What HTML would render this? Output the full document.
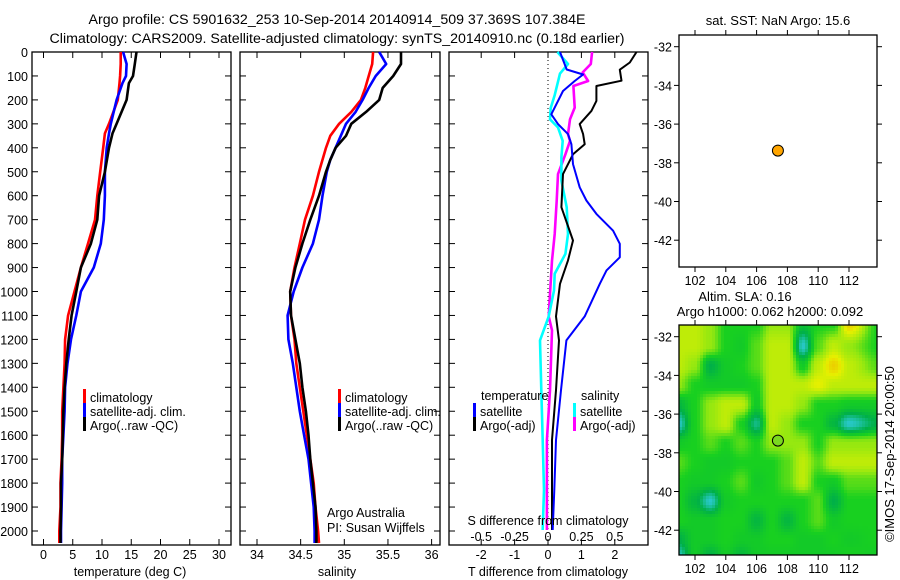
<!DOCTYPE html>
<html><head><meta charset="utf-8"><style>
body{margin:0;background:#fff}
svg{display:block;font-family:"Liberation Sans",sans-serif;font-size:12.5px}
</style></head><body>
<svg id="fig" width="900" height="580" viewBox="0 0 900 580">
<text x="337" y="24" text-anchor="middle" style="font-size:14.2px">Argo profile: CS 5901632_253 10-Sep-2014 20140914_509 37.369S 107.384E</text>
<text x="337" y="43" text-anchor="middle" style="font-size:14.2px">Climatology: CARS2009. Satellite-adjusted climatology: synTS_20140910.nc (0.18d earlier)</text>
<g id="m2"></g>
<g id="p1"></g>
<g id="p2"></g>
<g id="p3"></g>
<g id="m1"></g>
<text x="778" y="25" text-anchor="middle" style="font-size:13px">sat. SST: NaN Argo: 15.6</text>
<text x="745" y="301" text-anchor="middle" style="font-size:13px">Altim. SLA: 0.16</text>
<text x="770" y="316" text-anchor="middle" style="font-size:13px">Argo h1000: 0.062 h2000: 0.092</text>
<text transform="translate(894,454) rotate(-90)" text-anchor="middle" style="font-size:13px">©IMOS 17-Sep-2014 20:00:50</text>
<text x="130" y="576" text-anchor="middle">temperature (deg C)</text>
<text x="337" y="576" text-anchor="middle">salinity</text>
<text x="548" y="576" text-anchor="middle">T difference from climatology</text>
<text x="548" y="525" text-anchor="middle">S difference from climatology</text>
<text x="327" y="517">Argo Australia</text>
<text x="327" y="532">PI: Susan Wijffels</text>
</svg>
<script>
const NS="http://www.w3.org/2000/svg";
// ---- data ----
const tDepth=[0,50,100,130,200,300,340,400,500,600,700,800,900,1000,1100,1200,1300,1400,1500,1600,1700,1800,1900,2000,2050];
const tClim=[13.2,13.2,13.1,13.0,12.7,11.2,10.5,10.2,9.7,9.2,8.8,7.6,6.4,5.3,4.2,3.7,3.6,3.4,3.2,3.2,3.1,2.9,2.9,2.7,2.7];
const tSat=[13.6,14.2,14.1,13.5,12.5,11.5,11.2,10.8,10.5,10.5,10.3,9.8,8.6,6.4,5.6,4.7,4.1,3.7,3.6,3.4,3.2,3.2,3.1,3.0,3.0];
const tArgo=[15.9,15.6,15.3,14.6,14.2,12.5,11.8,11.2,10.5,9.5,9.2,8.1,6.4,5.6,4.8,4.3,3.9,3.6,3.4,3.3,3.2,3.0,3.0,2.9,2.9];
const sDepth=[0,50,100,150,200,250,300,350,400,450,500,600,700,800,900,1000,1100,1200,1300,1400,1500,1600,1700,1800,1900,2000,2050];
const sClim=[35.33,35.32,35.28,35.24,35.19,35.08,34.94,34.84,34.79,34.75,34.71,34.64,34.55,34.49,34.43,34.38,34.39,34.43,34.45,34.49,34.53,34.57,34.61,34.65,34.67,34.70,34.71];
const sSat=[35.40,35.48,35.36,35.28,35.21,35.13,35.02,34.96,34.90,34.84,34.80,34.75,34.71,34.64,34.52,34.42,34.35,34.36,34.41,34.45,34.49,34.54,34.59,34.62,34.65,34.66,34.66];
const sArgo=[35.65,35.65,35.56,35.44,35.40,35.25,35.08,35.02,34.90,34.84,34.79,34.71,34.61,34.52,34.44,34.38,34.39,34.44,34.49,34.52,34.56,34.59,34.61,34.64,34.67,34.68,34.68];
const dtArgoDepth=[0,44,74,120,142,204,246,301,343,385,427,510,648,787,870,968,1104,1204,1412,1620,1829,1996];
const dtArgo=[2.65,2.45,2.15,2.2,1.45,1.45,1.3,0.95,1.05,1.1,0.75,0.45,0.4,0.75,0.6,0.36,0.24,0.33,0.24,0.12,0.12,0.12];
const dtSatDepth=[0,73,94,121,163,260,301,343,385,468,565,620,676,746,801,857,912,968,1104,1204,1412,1620,1829,1996];
const dtSat=[0.36,0.56,1.05,0.8,0.45,0.1,0.3,0.6,0.7,0.75,0.95,1.15,1.45,1.95,2.15,2.15,1.75,1.55,1.1,0.55,0.39,0.24,0.19,0.14];
const dsSatDepth=[0,50,90,180,234,281,315,371,440,537,648,760,843,926,996,1104,1204,1412,1620,1829,1996];
const dsSat=[0.07,0.15,0.09,0.05,0.02,0.015,0.075,0.11,0.10,0.10,0.14,0.15,0.13,0.05,0.045,0.005,-0.06,-0.05,-0.04,-0.03,-0.04];
const dsArgoDepth=[0,50,85,121,142,232,281,343,371,427,510,621,760,871,1010,1104,1162,1412,1620,1829,1996];
const dsArgo=[0.33,0.32,0.26,0.30,0.19,0.2,0.165,0.15,0.165,0.13,0.075,0.065,0.05,0.03,0.015,0.005,0.03,0.015,-0.008,-0.008,-0.008];
const depthTicks=[0,100,200,300,400,500,600,700,800,900,1000,1100,1200,1300,1400,1500,1600,1700,1800,1900,2000];
const tTicks=[0,5,10,15,20,25,30];
const sTicks=[34,34.5,35,35.5,36];
const sTickLabels=["34","34.5","35","35.5","36"];
const dtTicks=[-2,-1,0,1,2];
const dsTicks=[-0.5,-0.25,0,0.25,0.5];
const dsTickLabels=["-0.5","-0.25","0","0.25","0.5"];
const lonTicks=[102,104,106,108,110,112];
const latTicks=[-32,-34,-36,-38,-40,-42];
const argoLon=107.384, argoLat=-37.369;
// SLA grid: rows lat, cols lon
const slaLats=[-31.3,-32.5,-33.5,-34.5,-35.5,-36.5,-37.5,-38.5,-39.5,-40.5,-41.5,-42.5,-43.4];
const slaLons=[100.9,102,103,104,105,106,107,108,109,110,111,112,113.9];
const slaGrid=[
[3.5,3.5,3,2,2,2,3,3,1.5,2,2,4.5,2],
[3.5,3.5,3,2,1.8,2.5,3.5,3.5,0,2.5,3.5,3,2],
[3.5,3,1,1.8,2,2.5,3.5,3.5,1.8,3.5,4.5,3.5,2.5],
[3,2,1.8,1.8,1.8,2,3.5,3.5,3.5,4,3.5,3.5,3.5],
[1.2,2,3,3.5,3.5,1.8,3.5,3.5,3,2,2,1.8,1.8],
[0,2,3,3.5,2,0.5,3.5,3,2,2,1.2,0,1],
[1.8,2,2.5,2,2.5,2,3,3,3,2,3,3,3],
[2.5,2,1.8,1.8,2,2,2,2.5,3.5,2.5,3.5,3.5,3.5],
[2,1.8,1.8,2,2.5,1.8,2,2.5,3.5,2,1.8,2.5,2.5],
[2,1.2,0,1.8,2,2,2,2,2,2.5,1,2,2],
[2,1.8,1.8,2,2,1.2,2,1.2,2,2.5,1.8,2,2],
[1,1.8,1.8,2,1.8,1.8,2,2,1.8,1.8,2,1.8,2],
[0,1.8,1,1.8,1.2,1.8,1.8,1.8,1.8,1.8,1.8,2,1.8]];
const slaColors=[[40,200,200],[0,176,72],[24,208,32],[150,232,16],[230,240,0],[240,176,0]];

function mk(tag,attrs,parent){const e=document.createElementNS(NS,tag);for(const k in attrs)e.setAttribute(k,attrs[k]);parent.appendChild(e);return e;}
const PT=52,PB=545;
const yD=d=>52+d*0.2395;

function panel(g,x0,x1,xs,ticks,labels,name){
  mk("rect",{x:x0,y:PT,width:x1-x0,height:PB-PT,fill:"none",stroke:"#000","stroke-width":1.3},g);
  ticks.forEach((t,i)=>{const x=xs(t);
    mk("line",{x1:x,x2:x,y1:PB,y2:PB-6,stroke:"#000"},g);
    mk("line",{x1:x,x2:x,y1:PT,y2:PT+6,stroke:"#000"},g);
    const tx=mk("text",{x:x,y:559,"text-anchor":"middle"},g);tx.textContent=labels?labels[i]:t;
    
    
  });
  depthTicks.forEach(d=>{const y=yD(d);
    mk("line",{x1:x0,x2:x0+6,y1:y,y2:y,stroke:"#000"},g);
    mk("line",{x1:x1,x2:x1-6,y1:y,y2:y,stroke:"#000"},g);});
}
function line(g,xs,xv,dv,col,name,w){
  let p="";for(let i=0;i<xv.length;i++)p+=(i?"L":"M")+xs(xv[i]).toFixed(1)+" "+yD(dv[i]).toFixed(1);
  const e=mk("path",{d:p,fill:"none",stroke:col,"stroke-width":w||2.6,"stroke-linejoin":"round"},g);
  
  
}
function legend(g,x,y,col,label,name){
  mk("rect",{x:x-1,y:y-11,width:3,height:14,fill:col},g);
  const t=mk("text",{x:x+6,y:y+2},g);t.textContent=label;
  
  
}
// panel 1
const p1=document.getElementById("p1");
const xT=t=>43.5+t*5.85;
panel(p1,32,231,xT,tTicks,null,"temperature");
depthTicks.forEach(d=>{const t=mk("text",{x:28,y:yD(d)+5,"text-anchor":"end"},p1);t.textContent=d;
  
  });
line(p1,xT,tClim,tDepth,"#f00","temperature-climatology-line");
line(p1,xT,tSat,tDepth,"#00f","temperature-satellite-line");
line(p1,xT,tArgo,tDepth,"#000","temperature-argo-line");
legend(p1,84,400,"#f00","climatology","legend-climatology");
legend(p1,84,414,"#00f","satellite-adj. clim.","legend-satellite");
legend(p1,84,428,"#000","Argo(..raw -QC)","legend-argo");
// panel 2
const p2=document.getElementById("p2");
const xS=s=>257+(s-34)*87.3;
panel(p2,240,440,xS,sTicks,sTickLabels,"salinity");
line(p2,xS,sClim,sDepth,"#f00","salinity-climatology-line");
line(p2,xS,sSat,sDepth,"#00f","salinity-satellite-line");
line(p2,xS,sArgo,sDepth,"#000","salinity-argo-line");
legend(p2,339,400,"#f00","climatology","legend-climatology-2");
legend(p2,339,414,"#00f","satellite-adj. clim.","legend-satellite-2");
legend(p2,339,428,"#000","Argo(..raw -QC)","legend-argo-2");
// panel 3
const p3=document.getElementById("p3");
const xDT=t=>548+t*33.4;
const xDS=s=>548+s*133.6;
panel(p3,449,648,xDT,dtTicks,null,"t-difference");
mk("line",{x1:548,x2:548,y1:PT,y2:PB,stroke:"#000","stroke-dasharray":"1 3"},p3);
dsTicks.forEach((s,i)=>{const t=mk("text",{x:xDS(s),y:541,"text-anchor":"middle"},p3);t.textContent=dsTickLabels[i];
  
  });
line(p3,xDS,dsArgo,dsArgoDepth,"#f0f","s-diff-argo-line");
line(p3,xDS,dsSat,dsSatDepth,"#0ff","s-diff-satellite-line");
line(p3,xDT,dtArgo,dtArgoDepth,"#000","t-diff-argo-line",2);
line(p3,xDT,dtSat,dtSatDepth,"#00f","t-diff-satellite-line",2);
[["temperature",481,400],["salinity",581,400]].forEach(a=>{const t=mk("text",{x:a[1],y:a[2]},p3);t.textContent=a[0];
  
  });
legend(p3,474,414,"#00f","satellite","legend-t-satellite");
legend(p3,474,428,"#000","Argo(-adj)","legend-t-argo");
legend(p3,574,414,"#0ff","satellite","legend-s-satellite");
legend(p3,574,428,"#f0f","Argo(-adj)","legend-s-argo");
// maps
const xL=l=>695+(l-102)*15.4;
function mapAxes(g,top,bot,latY,name){
  mk("rect",{x:679,y:top,width:198,height:bot-top,fill:"none",stroke:"#000","stroke-width":1.3},g);
  lonTicks.forEach(l=>{const x=xL(l);
    mk("line",{x1:x,x2:x,y1:top,y2:top-5,stroke:"#000"},g);
    mk("line",{x1:x,x2:x,y1:bot,y2:bot+5,stroke:"#000"},g);
    const t=mk("text",{x:x,y:bot+18,"text-anchor":"middle"},g);t.textContent=l;
    
    });
  latTicks.forEach(l=>{const y=latY(l);
    mk("line",{x1:679,x2:674,y1:y,y2:y,stroke:"#000"},g);
    mk("line",{x1:877,x2:882,y1:y,y2:y,stroke:"#000"},g);
    const t=mk("text",{x:672,y:y+5,"text-anchor":"end"},g);t.textContent=l;
    
    });
}
const m1=document.getElementById("m1");
const latY1=l=>46.7+(-32-l)*19.35;
mapAxes(m1,35,267,latY1,"sst-map");
const dot=mk("circle",{cx:xL(argoLon),cy:latY1(argoLat),r:5.5,fill:"#ffa500",stroke:"#000","stroke-width":1},m1);


const m2=document.getElementById("m2");
const latY2=l=>336.7+(-32-l)*19.35;
const invLon=x=>102+(x-695)/15.4, invLat=y=>-32-(y-336.7)/19.35;
function idx(arr,v,asc){let i=0;while(i<arr.length-2&&(asc?v>arr[i+1]:v<arr[i+1]))i++;
  let f=(v-arr[i])/(arr[i+1]-arr[i]);return [i,Math.max(0,Math.min(1,f))];}
function field(lon,lat){const [c,fx]=idx(slaLons,lon,true),[r,fy]=idx(slaLats,lat,false);
  const a=slaGrid[r][c],b=slaGrid[r][c+1],cc=slaGrid[r+1][c],d=slaGrid[r+1][c+1];
  const sx=fx*fx*(3-2*fx), sy=fy*fy*(3-2*fy);
  return (a*(1-sx)+b*sx)*(1-sy)+(cc*(1-sx)+d*sx)*sy;}
function col(v){v=Math.max(0,Math.min(5,v));const i=Math.min(4,Math.floor(v)),f=v-i;
  const A=slaColors[i],B=slaColors[i+1];return "rgb("+A.map((a,k)=>Math.round(a+(B[k]-a)*f)).join(",")+")";}
const hg=mk("g",{},m2);
const CS=3;
for(let y=325;y<555;y+=CS)for(let x=679;x<877;x+=CS){
  const v=field(invLon(x+CS/2),invLat(y+CS/2));
  const e=mk("rect",{x:x,y:y,width:Math.min(CS,877-x)+0.3,height:Math.min(CS,555-y)+0.3,fill:col(v)},hg);
  
  
}
mapAxes(m2,325,555,latY2,"sla-map");
const dot2=mk("circle",{cx:xL(argoLon),cy:latY2(argoLat),r:5.5,fill:"#7ad820",stroke:"#000","stroke-width":1},m2);


</script>
</body></html>
